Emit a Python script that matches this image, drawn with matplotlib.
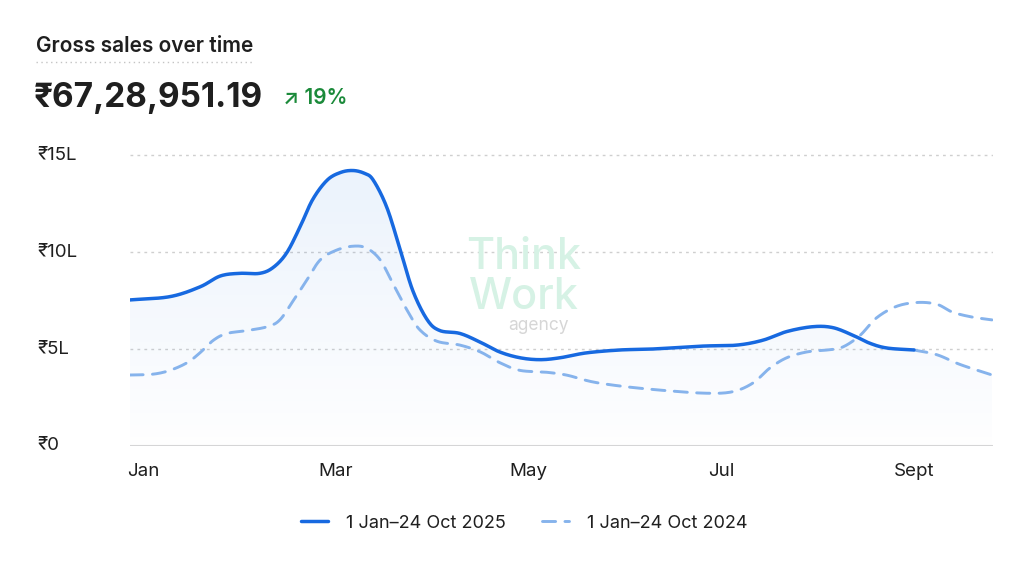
import numpy as np
import matplotlib
matplotlib.use("Agg")
import matplotlib.pyplot as plt
from matplotlib.lines import Line2D
from matplotlib.transforms import blended_transform_factory

plt.rcParams["font.family"] = ["Inter", "DejaVu Sans"]

# values in lakh (L), x in months since Jan (Jan = 0)
months_2025 = [-0.135, 0.28, 0.59, 0.8, 1.0, 1.21, 1.35, 1.49, 1.63, 1.76, 1.91, 2.05, 2.18,
               2.3, 2.39, 2.53, 2.67, 2.8, 2.95, 3.08, 3.29, 3.5, 3.7, 3.91, 4.12, 4.33,
               4.6, 4.95, 5.29, 5.81, 6.16, 6.43, 6.68, 6.95, 7.16, 7.37, 7.54, 7.72, 8.0]
sales_2025 = [7.53, 7.7, 8.2, 8.76, 8.9, 8.9, 9.2, 9.95, 11.3, 12.7, 13.7, 14.1, 14.2,
              14.05, 13.7, 12.3, 10.1, 8.0, 6.5, 5.95, 5.8, 5.35, 4.85, 4.55, 4.45, 4.55,
              4.8, 4.95, 5.0, 5.15, 5.2, 5.45, 5.9, 6.15, 6.1, 5.7, 5.3, 5.05, 4.95]
months_2025_tail = [8.0, 8.24, 8.48, 8.81]
sales_2025_tail = [4.95, 4.7, 4.2, 3.66]

months_2024 = [-0.135, 0.1, 0.28, 0.46, 0.59, 0.73, 0.87, 1.08, 1.29, 1.42, 1.56, 1.7, 1.84,
               2.01, 2.18, 2.32, 2.46, 2.59, 2.74, 2.87, 3.05, 3.29, 3.5, 3.7, 3.91, 4.19,
               4.4, 4.67, 5.02, 5.44, 5.85, 6.12, 6.33, 6.5, 6.68, 6.89, 7.1, 7.26, 7.44,
               7.61, 7.82, 8.04, 8.24, 8.4, 8.6, 8.81]
sales_2024 = [3.66, 3.7, 3.9, 4.3, 4.8, 5.45, 5.8, 5.95, 6.15, 6.5, 7.5, 8.55, 9.6,
              10.1, 10.3, 10.2, 9.6, 8.4, 7.0, 6.0, 5.4, 5.2, 4.85, 4.3, 3.9, 3.8,
              3.65, 3.3, 3.05, 2.85, 2.72, 2.8, 3.25, 4.0, 4.55, 4.85, 4.95, 5.1, 5.7,
              6.6, 7.2, 7.4, 7.3, 6.9, 6.65, 6.5]

tick_months = [0, 2, 4, 6, 8]
tick_labels = ["Jan", "Mar", "May", "Jul", "Sept"]
y_ticks = [0, 5, 10, 15]
y_labels = ["₹0", "₹5L", "₹10L", "₹15L"]

SOLID = "#1769e0"
LIGHT = "#86b3ec"
TEXT = "#1f1f1f"
DASH = (0, (4.5, 3.2))


def smooth(x, y, n=16):
    # catmull-rom curve through the read points, for drawing only
    x = np.asarray(x, float)
    y = np.asarray(y, float)
    px = np.concatenate([[2 * x[0] - x[1]], x, [2 * x[-1] - x[-2]]])
    py = np.concatenate([[2 * y[0] - y[1]], y, [2 * y[-1] - y[-2]]])
    ox, oy = [], []
    t = np.linspace(0, 1, n, endpoint=False)
    for i in range(1, len(px) - 2):
        h00 = 2 * t**3 - 3 * t**2 + 1
        h10 = t**3 - 2 * t**2 + t
        h01 = -2 * t**3 + 3 * t**2
        h11 = t**3 - t**2
        mx0 = (px[i + 1] - px[i - 1]) / 2
        mx1 = (px[i + 2] - px[i]) / 2
        my0 = (py[i + 1] - py[i - 1]) / 2
        my1 = (py[i + 2] - py[i]) / 2
        ox.append(h00 * px[i] + h10 * mx0 + h01 * px[i + 1] + h11 * mx1)
        oy.append(h00 * py[i] + h10 * my0 + h01 * py[i + 1] + h11 * my1)
    ox.append([x[-1]])
    oy.append([y[-1]])
    return np.concatenate(ox), np.concatenate(oy)


fig = plt.figure(figsize=(10.24, 5.77), dpi=100)
ax = fig.add_axes([130 / 1024, 1 - 446 / 577, 863 / 1024, 0.5245])
ax.set_xlim(-0.135, 8.82)
ax.set_ylim(0, 15.6)

x25, y25 = smooth(months_2025, sales_2025)
x25t, y25t = smooth(months_2025_tail, sales_2025_tail)
x24, y24 = smooth(months_2024, sales_2024)

# gradient fill under 2025 line
fx = np.concatenate([x25, x25t[1:]])
fy = np.concatenate([y25, y25t[1:]])
poly = ax.fill_between(fx, fy, 0, color="none", lw=0)
grad = np.linspace(0, 1, 256).reshape(-1, 1)
rgba = np.zeros((256, 1, 4))
rgba[..., 0] = 0.18
rgba[..., 1] = 0.49
rgba[..., 2] = 0.88
rgba[..., 3] = 0.005 + 0.10 * grad[::-1]
im = ax.imshow(rgba, extent=[-0.135, 8.82, 0, 15.6], aspect="auto", origin="upper", zorder=1)
im.set_clip_path(poly.get_paths()[0], transform=ax.transData)

for v in y_ticks[1:]:
    ax.axhline(v, color="#cfcfcf", lw=1, ls=(0, (2, 3)), zorder=0)
ax.axhline(0, color="#d6d6d6", lw=1.5, zorder=0)

# watermark
ax.text(3.95, 9.1, "Think", fontsize=31, color="#d6f2e5", ha="center", va="baseline",
        fontweight="medium", zorder=0.5)
ax.text(3.95, 7.05, "Work", fontsize=31, color="#d6f2e5", ha="center", va="baseline",
        fontweight="medium", zorder=0.5)
ax.text(4.42, 6.2, "agency", fontsize=12.5, color="#d6d6d6", ha="right", va="center", zorder=0.5)

l25, = ax.plot(x25, y25, color=SOLID, lw=2.5, solid_capstyle="round", zorder=3)
ax.plot(x25t, y25t, color=LIGHT, lw=2.1, ls=DASH, dash_capstyle="round", zorder=2)
l24, = ax.plot(x24, y24, color=LIGHT, lw=2.1, ls=DASH, dash_capstyle="round", zorder=2)

for s in ax.spines.values():
    s.set_visible(False)
ax.set_xticks(tick_months)
ax.set_xticklabels(tick_labels, fontsize=13.5, color=TEXT)
ax.tick_params(axis="x", length=0, pad=12)
ax.set_yticks([])

tr = blended_transform_factory(fig.transFigure, ax.transData)
for v, lab in zip(y_ticks, y_labels):
    ax.text(37 / 1024, v, lab, transform=tr, fontsize=13.5, color=TEXT, ha="left", va="center")

# header
fig.text(36 / 1024, 1 - 46 / 577, "Gross sales over time", fontsize=15, fontweight="semibold",
         color=TEXT, ha="left", va="center")
fig.add_artist(Line2D([36 / 1024, 253 / 1024], [1 - 62 / 577] * 2, color="#c4c4c4", lw=1,
                      ls=(0, (1, 2.5))))
fig.text(34 / 1024, 1 - 98 / 577, "₹67,28,951.19", fontsize=24, fontweight="bold",
         color=TEXT, ha="left", va="center")
fig.text(283 / 1024, 1 - 98 / 577, "↗ 19%", fontsize=15, fontweight="semibold",
         color="#1b8a3a", ha="left", va="center")

fig.legend([l25, l24], ["1 Jan–24 Oct 2025", "1 Jan–24 Oct 2024"], loc="center",
           bbox_to_anchor=(524 / 1024, 1 - 523 / 577), ncol=2, frameon=False, fontsize=13,
           handlelength=1.5, columnspacing=2.0, handletextpad=1.0, labelcolor=TEXT)

fig.savefig("out.png", dpi=100)
